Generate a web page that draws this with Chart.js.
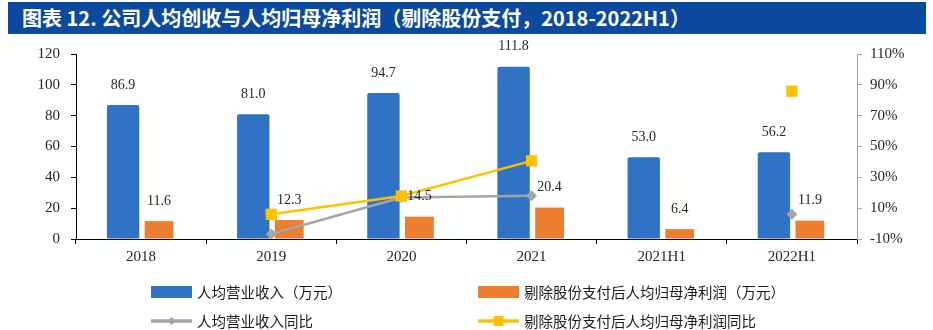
<!DOCTYPE html>
<html>
<head>
<meta charset="utf-8">
<script src="https://cdn.jsdelivr.net/npm/chart.js@4.4.1/dist/chart.umd.min.js"></script>
<style>
  html, body { margin: 0; padding: 0; background: #fff; }
  #wrap { position: relative; width: 933px; height: 330px; overflow: hidden; }
  #title {
    position: absolute; left: 8px; top: 2px; width: 918px; height: 32px;
    background: #0b4a9e; color: #fff; box-sizing: border-box;
    font-family: "Noto Sans CJK SC", sans-serif; font-weight: 700; font-size: 20px;
    line-height: 32px; padding-left: 14px; white-space: nowrap; z-index: 2;
  }
  canvas { position: absolute; left: 0; top: 0; }
  .lg { position: absolute; font-family: "Noto Sans CJK SC", sans-serif; font-size: 14.5px; color: #1a1a1a; white-space: nowrap; z-index: 2; height: 20px; line-height: 20px; }
  .lg .mk { position: absolute; left: 0; top: 0; width: 41px; height: 20px; }
  .lg .tx { position: absolute; left: 46px; top: 0; }
</style>
</head>
<body>
<div id="wrap">
  <div id="title">图表 12. 公司人均创收与人均归母净利润（剔除股份支付，2018-2022H1）</div>
  <canvas id="c" width="933" height="330"></canvas>
  <div id="legend"></div>
</div>
<script>
// ---- data ----
const categories = ['2018', '2019', '2020', '2021', '2021H1', '2022H1'];
const revenuePerCapita = [86.9, 81.0, 94.7, 111.8, 53.0, 56.2];        // 人均营业收入（万元）
const profitPerCapita = [11.6, 12.3, 14.5, 20.4, 6.4, 11.9];           // 剔除股份支付后人均归母净利润（万元）
const revenueYoY = [null, -6.8, 16.9, 18.1, null, 6.0];                // 人均营业收入同比 (%)
const profitYoY = [null, 6.0, 17.9, 40.7, null, 85.9];                 // 剔除股份支付后人均归母净利润同比 (%)
const leftTicks = [0, 20, 40, 60, 80, 100, 120];
const rightTicks = [-10, 10, 30, 50, 70, 90, 110];

const seriesNames = [
  '人均营业收入（万元）',
  '剔除股份支付后人均归母净利润（万元）',
  '人均营业收入同比',
  '剔除股份支付后人均归母净利润同比'
];

const BLUE = '#3072c4', ORANGE = '#ed7d31', GRAY = '#a5a5a5', YELLOW = '#ffc000';
const SERIF = '"Liberation Serif", "Times New Roman", serif';
const TXT = '#262626';

const valueLabels = {
  id: 'valueLabels',
  afterDatasetsDraw(chart) {
    const ctx = chart.ctx;
    ctx.save();
    ctx.font = '14px ' + SERIF;
    ctx.fillStyle = TXT;
    ctx.textAlign = 'center';
    ctx.textBaseline = 'middle';
    chart.data.datasets.forEach((ds, i) => {
      if (ds.type !== 'bar') return;
      const meta = chart.getDatasetMeta(i);
      meta.data.forEach((el, j) => {
        const v = ds.data[j];
        if (v == null) return;
        ctx.fillText(v.toFixed(1), el.x, el.y - 20);
      });
    });
    ctx.restore();
  }
};

const chart = new Chart(document.getElementById('c'), {
  data: {
    labels: categories,
    datasets: [
      { type: 'bar', label: seriesNames[0], data: revenuePerCapita, backgroundColor: BLUE,
        yAxisID: 'y', order: 2, barPercentage: 0.9, categoryPercentage: 0.553,
        borderRadius: { topLeft: 2, topRight: 2 }, borderSkipped: 'bottom' },
      { type: 'bar', label: seriesNames[1], data: profitPerCapita, backgroundColor: ORANGE,
        yAxisID: 'y', order: 2, barPercentage: 0.8, categoryPercentage: 0.553 },
      { type: 'line', label: seriesNames[2], data: revenueYoY, borderColor: GRAY, backgroundColor: GRAY,
        yAxisID: 'y1', order: 1, borderWidth: 2.5, pointStyle: 'rectRot', pointRadius: 5.5,
        pointBorderWidth: 0, spanGaps: false, tension: 0 },
      { type: 'line', label: seriesNames[3], data: profitYoY, borderColor: YELLOW, backgroundColor: YELLOW,
        yAxisID: 'y1', order: 0, borderWidth: 2.5, pointStyle: 'rect', pointRadius: 8,
        pointBorderWidth: 0, spanGaps: false, tension: 0 }
    ]
  },
  options: {
    responsive: false,
    animation: false,
    devicePixelRatio: 1,
    layout: { padding: { top: 54, bottom: 0, left: 0, right: 0 } },
    plugins: { legend: { display: false }, tooltip: { enabled: false }, title: { display: false } },
    scales: {
      x: {
        offset: true,
        grid: { display: true, drawOnChartArea: false, drawTicks: true, tickLength: 5, color: '#000', offset: true },
        border: { display: true, color: '#000', width: 1 },
        ticks: { font: { family: SERIF, size: 15 }, color: TXT, padding: 4 },
        afterFit(s) { s.height = 91; }
      },
      y: {
        position: 'left', min: 0, max: 120,
        afterBuildTicks(s) { s.ticks = leftTicks.map(v => ({ value: v })); },
        grid: { display: true, drawOnChartArea: false, drawTicks: true, tickLength: 5, color: '#000' },
        border: { display: true, color: '#000', width: 1 },
        ticks: { font: { family: SERIF, size: 15 }, color: TXT, padding: 11 },
        afterFit(s) { s.width = 76; }
      },
      y1: {
        position: 'right', min: -10, max: 110,
        afterBuildTicks(s) { s.ticks = rightTicks.map(v => ({ value: v })); },
        grid: { display: true, drawOnChartArea: false, drawTicks: true, tickLength: 5, color: '#a6a6a6' },
        border: { display: true, color: '#a6a6a6', width: 1 },
        ticks: { font: { family: SERIF, size: 15 }, color: TXT, padding: 8, callback: v => v + '%' },
        afterFit(s) { s.width = 76; }
      }
    }
  },
  plugins: [valueLabels]
});

// ---- HTML legend built from datasets ----
const legendPos = [
  { left: 151, top: 282 }, { left: 478, top: 282 },
  { left: 151, top: 311 }, { left: 478, top: 311 }
];
const lg = document.getElementById('legend');
chart.data.datasets.forEach((ds, i) => {
  const item = document.createElement('div');
  item.className = 'lg';
  item.style.left = legendPos[i].left + 'px';
  item.style.top = legendPos[i].top + 'px';
  const mk = document.createElement('canvas');
  mk.className = 'mk'; mk.width = 41; mk.height = 20;
  const c = mk.getContext('2d');
  if (ds.type === 'bar') {
    c.fillStyle = ds.backgroundColor; c.fillRect(0, 4, 41, 12);
  } else {
    c.strokeStyle = ds.borderColor; c.lineWidth = 3.5;
    c.beginPath(); c.moveTo(0, 10); c.lineTo(41, 10); c.stroke();
    c.fillStyle = ds.backgroundColor;
    if (ds.pointStyle === 'rect') { c.fillRect(15.5, 5, 10, 10); }
    else { c.beginPath(); c.moveTo(20.5, 6); c.lineTo(24.5, 10); c.lineTo(20.5, 14); c.lineTo(16.5, 10); c.closePath(); c.fill(); }
  }
  const tx = document.createElement('span');
  tx.className = 'tx'; tx.textContent = ds.label;
  item.appendChild(mk); item.appendChild(tx);
  lg.appendChild(item);
});
</script>
</body>
</html>
